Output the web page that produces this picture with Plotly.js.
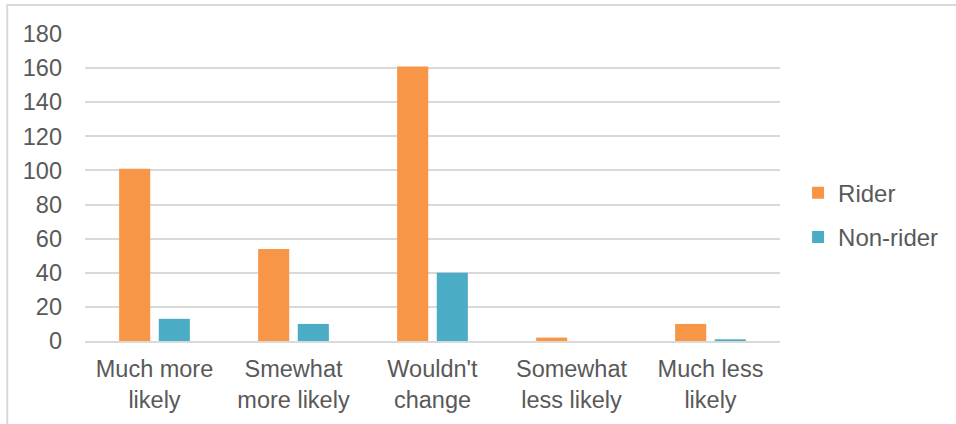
<!DOCTYPE html>
<html>
<head>
<meta charset="utf-8">
<script src="https://cdn.plot.ly/plotly-3.0.1.min.js"></script>
<style>
  html, body { margin: 0; padding: 0; background: #fff; }
  #chart { width: 956px; height: 424px; }
</style>
</head>
<body>
<div id="chart"></div>
<script>
const categories = ["Much more<br>likely", "Smewhat<br>more likely", "Wouldn't<br>change", "Somewhat<br>less likely", "Much less<br>likely"];
const riderValues = [101, 54, 161, 2, 10];
const nonRiderValues = [13, 10, 40, 0, 1];
const seriesNames = ["Rider", "Non-rider"];
const yTicks = [0, 20, 40, 60, 80, 100, 120, 140, 160, 180];

const textColor = "#595959";
const fontFam = "Arial, 'Liberation Sans', sans-serif";

const data = [
  {
    type: "bar", name: seriesNames[0], x: categories, y: riderValues,
    marker: { color: "#F79646" }, legendgroup: "a", hoverinfo: "y"
  },
  {
    type: "bar", name: seriesNames[1], x: categories, y: nonRiderValues,
    marker: { color: "#4BACC6" }, legendgroup: "b", hoverinfo: "y"
  }
];

const layout = {
  width: 956, height: 424,
  margin: { l: 85, r: 174, t: 33.5, b: 83, pad: 0 },
  paper_bgcolor: "#ffffff", plot_bgcolor: "#ffffff",
  font: { family: fontFam, color: textColor, size: 24 },
  barmode: "group",
  bargap: 0.43,
  bargroupgap: 0.215,
  showlegend: true,
  legend: {
    x: 1.026, xanchor: "left", y: 0.41, yanchor: "middle",
    font: { size: 24, color: textColor, family: fontFam },
    tracegroupgap: 10,
    bgcolor: "rgba(0,0,0,0)"
  },
  xaxis: {
    type: "category",
    tickfont: { size: 23.5, color: textColor },
    showgrid: false, zeroline: false,
    showline: true, linecolor: "#D9D9D9", linewidth: 2,
    ticks: "", ticklabelstandoff: 6,
    fixedrange: true
  },
  yaxis: {
    range: [0, 180],
    tickvals: yTicks,
    ticktext: yTicks.map(String),
    tickfont: { size: 23.5, color: textColor },
    showgrid: true, gridcolor: "#D9D9D9", gridwidth: 2,
    zeroline: false, showline: false,
    ticks: "", ticklabelstandoff: 22,
    fixedrange: true
  },
  shapes: [
    {
      type: "rect", xref: "paper", yref: "paper",
      x0: (7 - 85) / 697, x1: 1.4, y0: -0.5, y1: (341 - 4.5) / 307.5,
      line: { color: "#D9D9D9", width: 2 }, layer: "below"
    }
  ]
};

Plotly.newPlot("chart", data, layout, { displayModeBar: false, staticPlot: true });
</script>
</body>
</html>
